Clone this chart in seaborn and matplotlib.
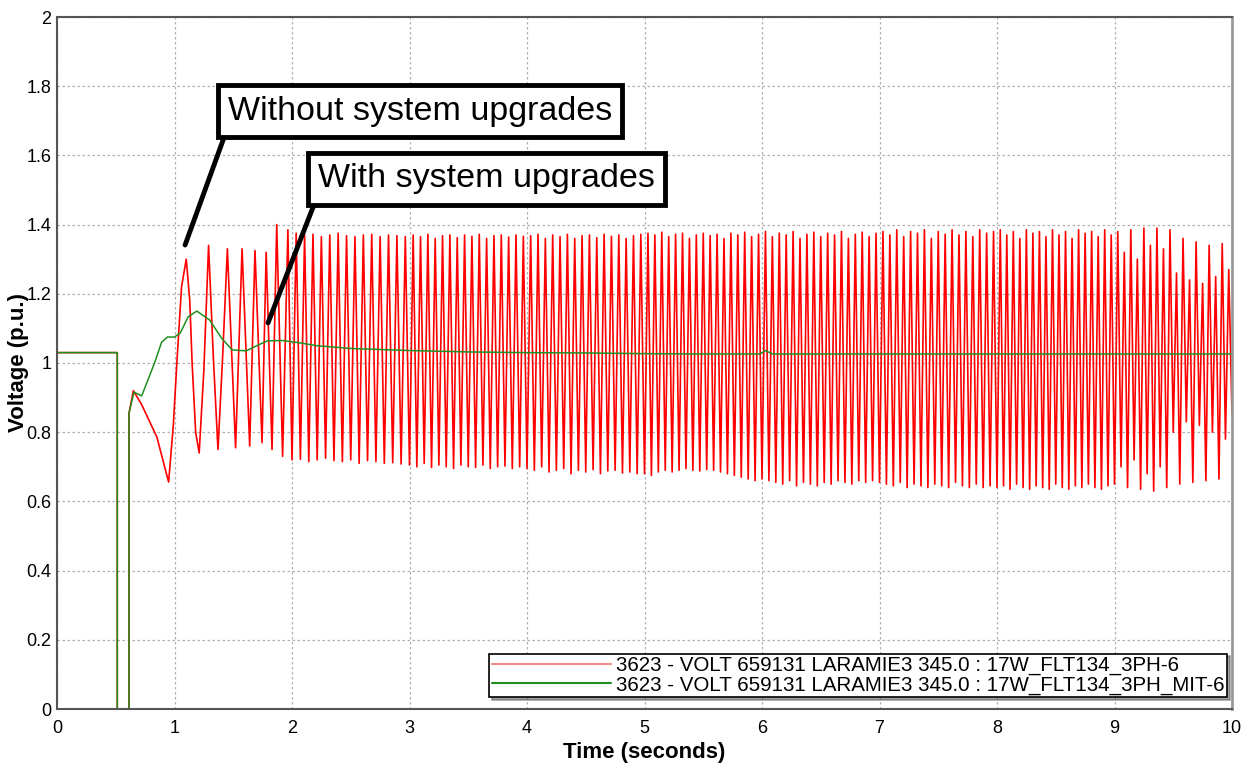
import numpy as np
import pandas as pd
import matplotlib
matplotlib.use("Agg")
import matplotlib.pyplot as plt
from matplotlib.ticker import MultipleLocator, FuncFormatter
import seaborn as sns

# ---------------- data ----------------
# green: with system upgrades (MIT case)
green_t = [0.0, 0.513, 0.513, 0.613, 0.613, 0.655, 0.72, 0.73, 0.83, 0.89, 0.94, 1.0,
           1.05, 1.115, 1.19, 1.30, 1.40, 1.49, 1.61, 1.70, 1.79, 1.92, 2.07, 2.21,
           2.5, 3.0, 3.5, 4.0, 4.5, 5.0, 5.5, 5.98, 6.03, 6.09, 6.5, 7.0, 8.0, 9.0, 10.0]
green_v = [1.03, 1.03, 0.0, 0.0, 0.855, 0.916, 0.905, 0.913, 1.0, 1.06, 1.075, 1.075,
           1.087, 1.133, 1.15, 1.124, 1.072, 1.038, 1.035, 1.05, 1.064, 1.065, 1.058, 1.05,
           1.042, 1.036, 1.032, 1.030, 1.029, 1.027, 1.026, 1.026, 1.036, 1.026, 1.026,
           1.026, 1.026, 1.026, 1.026]

# red: without system upgrades, first two seconds (each extreme read individually)
red_early_t = [0.0, 0.513, 0.513, 0.613, 0.613, 0.65, 0.72, 0.81, 0.85, 0.95, 0.99, 1.02,
               1.06, 1.10, 1.13, 1.15, 1.18, 1.21, 1.25, 1.29, 1.33, 1.37, 1.41, 1.45,
               1.52, 1.575, 1.64, 1.685, 1.745, 1.78, 1.83, 1.87, 1.92, 1.965]
red_early_v = [1.03, 1.03, 0.0, 0.0, 0.855, 0.92, 0.88, 0.815, 0.786, 0.656, 0.82, 1.0,
               1.22, 1.30, 1.18, 1.0, 0.80, 0.74, 0.98, 1.34, 1.02, 0.75, 1.02, 1.33,
               0.755, 1.33, 0.76, 1.325, 0.77, 1.32, 0.75, 1.40, 0.73, 1.385]

# red: cycle peaks and troughs, second by second (one entry per counted cycle)
red_peak_2 = [1.375, 1.37, 1.372, 1.365, 1.37, 1.375, 1.368, 1.365, 1.37, 1.372, 1.365, 1.37, 1.368, 1.365]
red_trough_2 = [0.72, 0.722, 0.715, 0.72, 0.725, 0.718, 0.715, 0.72, 0.71, 0.718, 0.715, 0.71, 0.712, 0.708]
red_peak_3 = [1.37, 1.365, 1.372, 1.36, 1.368, 1.37, 1.362, 1.37, 1.366, 1.372, 1.36, 1.368, 1.37, 1.364, 1.37, 1.366]
red_trough_3 = [0.705, 0.70, 0.71, 0.698, 0.705, 0.70, 0.695, 0.705, 0.70, 0.698, 0.705, 0.695, 0.70, 0.702, 0.695, 0.70]
red_peak_4 = [1.368, 1.372, 1.36, 1.37, 1.365, 1.372, 1.36, 1.368, 1.37, 1.362, 1.372, 1.366, 1.37, 1.36, 1.368, 1.372]
red_trough_4 = [0.695, 0.69, 0.70, 0.685, 0.69, 0.695, 0.68, 0.69, 0.685, 0.692, 0.68, 0.688, 0.69, 0.682, 0.685, 0.68]
red_peak_5 = [1.375, 1.37, 1.378, 1.365, 1.372, 1.375, 1.36, 1.37, 1.375, 1.368, 1.372, 1.36, 1.375, 1.37, 1.378, 1.365, 1.372]
red_trough_5 = [0.68, 0.675, 0.685, 0.69, 0.685, 0.69, 0.695, 0.69, 0.688, 0.692, 0.69, 0.685, 0.68, 0.675, 0.67, 0.665, 0.66]
red_peak_6 = [1.38, 1.365, 1.375, 1.37, 1.38, 1.36, 1.372, 1.378, 1.365, 1.375, 1.37, 1.38, 1.36, 1.372, 1.378, 1.365, 1.375]
red_trough_6 = [0.665, 0.66, 0.655, 0.65, 0.66, 0.645, 0.655, 0.65, 0.645, 0.655, 0.65, 0.66, 0.655, 0.65, 0.66, 0.655, 0.66]
red_peak_7 = [1.38, 1.37, 1.385, 1.365, 1.38, 1.375, 1.385, 1.36, 1.38, 1.372, 1.385, 1.37, 1.38, 1.365, 1.385, 1.375, 1.38]
red_trough_7 = [0.655, 0.65, 0.645, 0.655, 0.64, 0.65, 0.645, 0.64, 0.65, 0.645, 0.64, 0.655, 0.645, 0.64, 0.65, 0.64, 0.645]
red_peak_8 = [1.385, 1.37, 1.38, 1.36, 1.385, 1.375, 1.38, 1.365, 1.385, 1.37, 1.38, 1.36, 1.385, 1.375, 1.38, 1.365, 1.385, 1.37]
red_trough_8 = [0.64, 0.645, 0.635, 0.65, 0.64, 0.635, 0.645, 0.64, 0.635, 0.65, 0.64, 0.635, 0.645, 0.64, 0.65, 0.64, 0.635, 0.645]
red_peak_9 = [1.38, 1.32, 1.385, 1.30, 1.39, 1.34, 1.39, 1.33, 1.385, 1.26, 1.36, 1.24, 1.35, 1.23, 1.34, 1.25, 1.345, 1.27]
red_trough_9 = [0.65, 0.70, 0.64, 0.72, 0.635, 0.68, 0.63, 0.70, 0.64, 0.80, 0.65, 0.83, 0.655, 0.82, 0.66, 0.80, 0.665, 0.78]
red_end_v = 0.85

series_labels = ["3623 - VOLT 659131 LARAMIE3 345.0 : 17W_FLT134_3PH-6",
                 "3623 - VOLT 659131 LARAMIE3 345.0 : 17W_FLT134_3PH_MIT-6"]
note_texts = ["Without system upgrades", "With system upgrades"]

# ---------------- assemble red series ----------------
red_t = list(red_early_t)
red_v = list(red_early_v)
seconds = [(2, red_peak_2, red_trough_2), (3, red_peak_3, red_trough_3),
           (4, red_peak_4, red_trough_4), (5, red_peak_5, red_trough_5),
           (6, red_peak_6, red_trough_6), (7, red_peak_7, red_trough_7),
           (8, red_peak_8, red_trough_8), (9, red_peak_9, red_trough_9)]
for s, pk, tr in seconds:
    n = len(pk)
    for k in range(n):
        red_t += [s + k / n, s + (k + 0.5) / n]
        red_v += [tr[k], pk[k]]
red_t.append(10.0)
red_v.append(red_end_v)

df_red = pd.DataFrame({"t": red_t, "v": red_v})
df_green = pd.DataFrame({"t": green_t, "v": green_v})

# ---------------- style ----------------
sns.set_theme(style="white")
plt.rcParams["font.family"] = ["Liberation Sans", "DejaVu Sans"]
plt.rcParams["path.simplify"] = False
plt.rcParams["text.color"] = "black"
plt.rcParams["axes.labelcolor"] = "black"
plt.rcParams["xtick.color"] = "black"
plt.rcParams["ytick.color"] = "black"

fig = plt.figure(figsize=(12.5, 7.65), dpi=100)
ax = fig.add_axes([57 / 1250, 56 / 765, 1175 / 1250, 692 / 765])

sns.lineplot(data=df_red, x="t", y="v", sort=False, estimator=None, ax=ax,
             color="#ff0000", lw=1.2, label=series_labels[0])
sns.lineplot(data=df_green, x="t", y="v", sort=False, estimator=None, ax=ax,
             color="#1f8f1f", lw=1.1, label=series_labels[1])

ax.set_xlim(0, 10)
ax.set_ylim(0, 2)
ax.xaxis.set_major_locator(MultipleLocator(1))
ax.xaxis.set_minor_locator(MultipleLocator(0.25))
ax.yaxis.set_major_locator(MultipleLocator(0.2))
ax.yaxis.set_minor_locator(MultipleLocator(0.1))
ax.yaxis.set_major_formatter(FuncFormatter(lambda v, p: f"{v:g}"))
ax.xaxis.set_major_formatter(FuncFormatter(lambda v, p: f"{v:g}"))
ax.grid(True, which="major", color="#b0b0b0", linestyle=(0, (2, 2)), lw=0.9)
ax.tick_params(axis="both", which="major", direction="in", length=5, width=1,
               color="#666666", labelsize=13, labelcolor="black")
ax.tick_params(axis="x", which="major", pad=8)
ax.tick_params(axis="y", which="major", pad=4)
ax.tick_params(axis="both", which="minor", direction="in", length=3, width=0.8,
               color="#888888")
for side, sp in ax.spines.items():
    sp.set_color("#555555")
    sp.set_linewidth(1.5)
ax.spines["right"].set_color("#999999")
ax.spines["right"].set_linewidth(2)

ax.set_xlabel("Time (seconds)", fontsize=16, fontweight="bold")
ax.set_ylabel("Voltage (p.u.)", fontsize=16, fontweight="bold")
ax.xaxis.set_label_coords(0.5, -0.047)
ax.yaxis.set_label_coords(-0.0235, 0.5)

leg = ax.legend(loc="lower right", bbox_to_anchor=(0.9957, 0.0173),
                borderaxespad=0, frameon=True, fancybox=False, shadow=True,
                handlelength=5.8, handletextpad=0.25, borderpad=0.12, labelspacing=0.0,
                prop={"size": 14.8})
leg.get_frame().set_edgecolor("black")
leg.get_frame().set_linewidth(1.2)
for line in leg.get_lines():
    line.set_linewidth(1.5)
leg.get_lines()[0].set_color("#f08a8a")

box = dict(boxstyle="square,pad=0.3", fc="white", ec="black", lw=3.5)
arrow = dict(arrowstyle="-", lw=3.5, color="black", relpos=(0, 0), shrinkA=0, shrinkB=0)
ax.annotate(note_texts[0], xy=(1.09, 1.341), xytext=(3.09, 1.728), fontsize=24.5,
            color="black", ha="center", va="center", bbox=box, arrowprops=arrow, zorder=5)
ax.annotate(note_texts[1], xy=(1.796, 1.116), xytext=(3.655, 1.532), fontsize=24.5,
            color="black", ha="center", va="center", bbox=box, arrowprops=arrow, zorder=5)

fig.savefig("out.png", dpi=100)
